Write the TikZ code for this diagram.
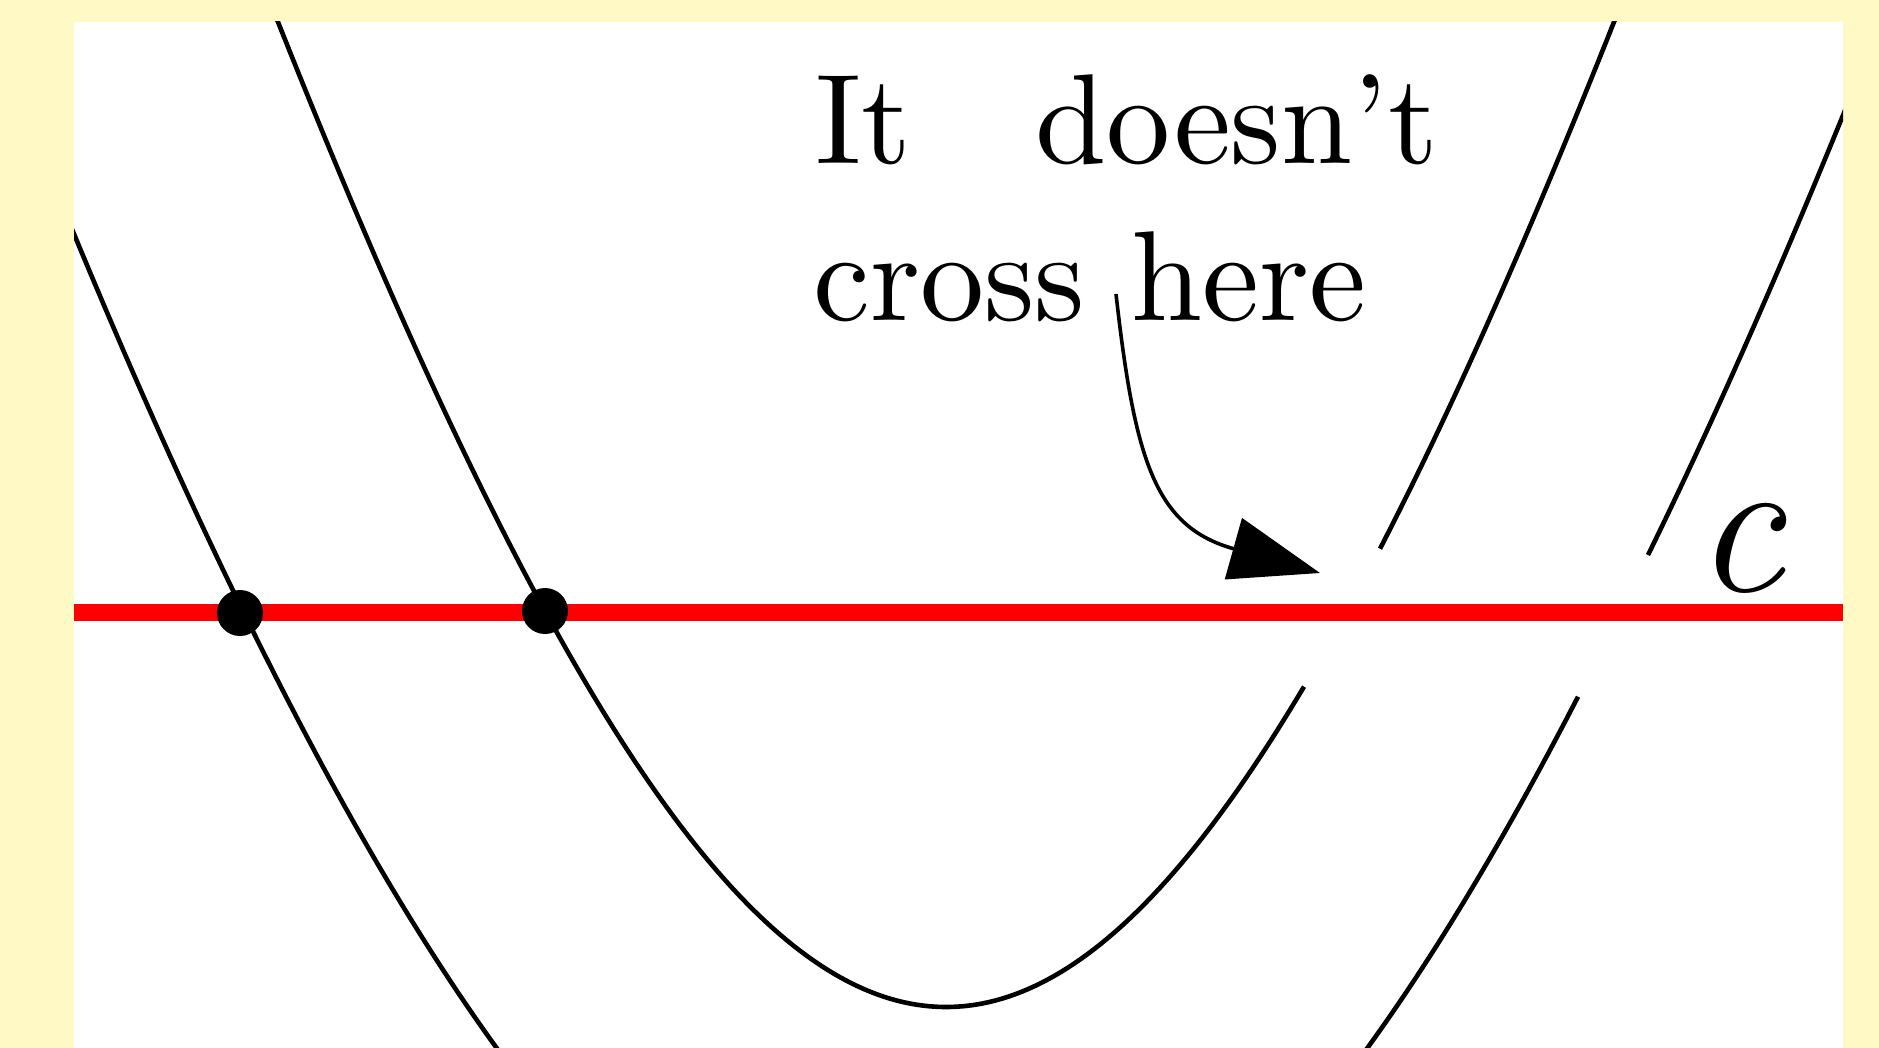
\documentclass[tikz,border=0pt]{standalone}
\usepackage{fontspec}
\newfontfamily\tenrm{lmroman10-regular.otf}
\newfontfamily\twelveit{lmroman12-italic.otf}
\usetikzlibrary{arrows.meta}
\definecolor{bgyellow}{RGB}{255,249,197}
\definecolor{linered}{RGB}{255,0,0}
\begin{document}
\begin{tikzpicture}[x=0.5pt,y=-0.5pt,
  declare function={
    fb(\x)=1007-100*(sqrt(23.49^2+12.545*((\x-946)/100)^2)-23.49);
    fa(\x)=1356-100*(sqrt(60^2+20*((\x-932)/100)^2)-60);
  },
  curve/.style={line width=2.3pt, black},
  redline/.style={line width=8.5pt, linered},
  dot/.style={circle, fill=black, inner sep=0pt, minimum size=23pt},
  txt/.style={inner sep=0pt, anchor=base west, font=\tenrm\fontsize{64}{77}\selectfont},
  arrowline/.style={line width=1.8pt, -{Triangle[length=45pt,width=31.5pt]}}
]
\path[use as bounding box, fill=bgyellow] (0,0) rectangle (1879,1048);
\fill[white] (74,22) rectangle (1843,1048);
\begin{scope}
  \clip (74,22) rectangle (1843,1048);
  % curve B (inner)
  \draw[curve] plot[domain=260:1304, samples=160] (\x,{fb(\x)});
  \draw[curve] plot[domain=1380:1640, samples=40] (\x,{fb(\x)});
  % curve A (outer)
  \draw[curve] plot[domain=60:520, samples=80] (\x,{fa(\x)});
  \draw[curve] plot[domain=1345:1578, samples=40] (\x,{fa(\x)});
  \draw[curve] plot[domain=1648:1860, samples=40] (\x,{fa(\x)+0.06*(\x-1648)});
\end{scope}
% red line c
\coordinate (cL) at (74,612.5);
\coordinate (cR) at (1843,612.5);
\draw[redline] (cL) -- (cR);
% intersection dots
\node[dot] (p1) at (240,613) {};
\node[dot] (p2) at (545,611) {};
% label c
\node[inner sep=0pt, anchor=base west] (clabel) at (1694,591) {\twelveit\fontsize{100}{120}\selectfont c};
% text
\node[txt] (t1) at (815,164) {It\hspace{62pt}doesn’t};
\node[txt] (t2) at (813,321) {cross\hspace{23pt}here};
% arrow
\coordinate (arrS) at (1116,294);
\coordinate (arrE) at (1320,573);
\draw[arrowline] (arrS) .. controls (1135,463) and (1156,527) .. (arrE);
\end{tikzpicture}
\end{document}
